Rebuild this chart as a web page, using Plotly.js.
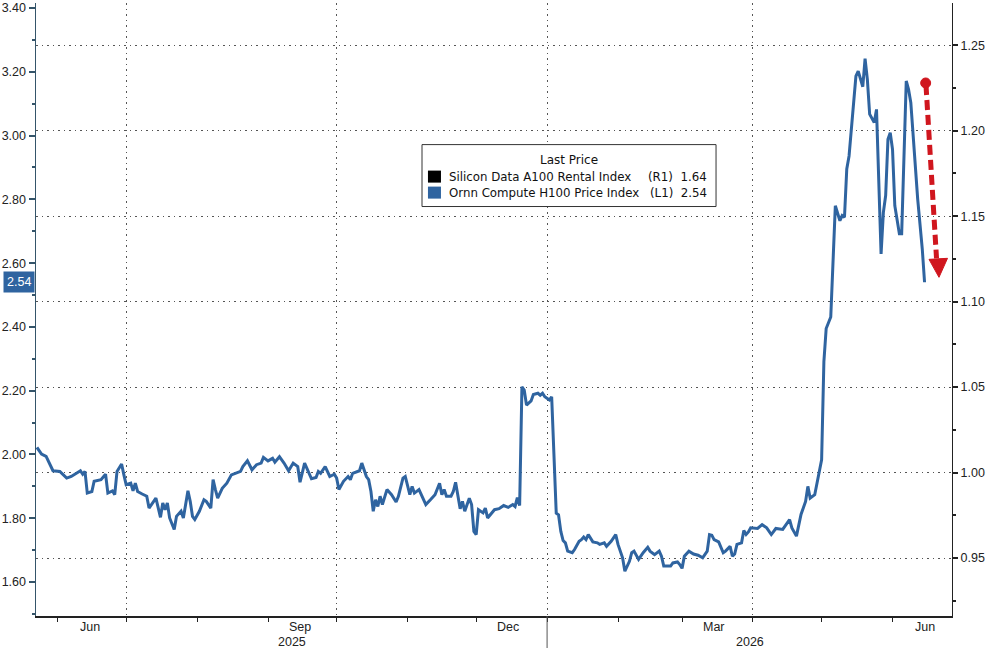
<!DOCTYPE html>
<html>
<head>
<meta charset="utf-8">
<script src="https://cdn.plot.ly/plotly-3.0.1.min.js"></script>
<style>html,body{margin:0;padding:0;background:#fff;}#chart{width:991px;height:648px;}</style>
</head>
<body>
<div id="chart"></div>
<script>
// Ornn Compute H100 Price Index (L1)
const h100Dates = [
"2025-05-23","2025-05-25","2025-05-27","2025-05-30","2025-06-02","2025-06-05","2025-06-07","2025-06-09","2025-06-11","2025-06-12",
"2025-06-13","2025-06-14","2025-06-16","2025-06-17","2025-06-20","2025-06-22","2025-06-23","2025-06-25","2025-06-26","2025-06-27",
"2025-06-29","2025-06-30","2025-07-01","2025-07-03","2025-07-04","2025-07-05","2025-07-06","2025-07-08","2025-07-10","2025-07-11",
"2025-07-13","2025-07-14","2025-07-16","2025-07-17","2025-07-18","2025-07-19","2025-07-20","2025-07-22","2025-07-23","2025-07-25",
"2025-07-26","2025-07-28","2025-07-29","2025-07-30","2025-07-31","2025-08-02","2025-08-04","2025-08-05","2025-08-07","2025-08-08",
"2025-08-09","2025-08-10","2025-08-12","2025-08-14","2025-08-16","2025-08-18","2025-08-20","2025-08-21","2025-08-23","2025-08-25",
"2025-08-27","2025-08-29","2025-08-30","2025-09-01","2025-09-03","2025-09-04","2025-09-06","2025-09-08","2025-09-10","2025-09-12",
"2025-09-14","2025-09-15","2025-09-17","2025-09-20","2025-09-22","2025-09-23","2025-09-24","2025-09-26","2025-09-28","2025-09-30",
"2025-10-01","2025-10-02","2025-10-04","2025-10-06","2025-10-07","2025-10-08","2025-10-11","2025-10-12","2025-10-14","2025-10-15",
"2025-10-16","2025-10-17","2025-10-18","2025-10-19","2025-10-20","2025-10-21","2025-10-23","2025-10-25","2025-10-27","2025-10-28",
"2025-10-30","2025-10-31","2025-11-02","2025-11-03","2025-11-04","2025-11-06","2025-11-09","2025-11-11","2025-11-13","2025-11-15",
"2025-11-16","2025-11-17","2025-11-18","2025-11-20","2025-11-21","2025-11-22","2025-11-24","2025-11-25","2025-11-26","2025-11-28",
"2025-11-29","2025-11-30","2025-12-01","2025-12-02","2025-12-04","2025-12-05","2025-12-06","2025-12-09","2025-12-11","2025-12-13",
"2025-12-15","2025-12-17","2025-12-18","2025-12-19","2025-12-20","2025-12-21","2025-12-22","2025-12-23","2025-12-25","2025-12-26",
"2025-12-28","2025-12-29","2025-12-30","2025-12-31","2026-01-02","2026-01-03","2026-01-05","2026-01-06","2026-01-07","2026-01-08",
"2026-01-09","2026-01-10","2026-01-12","2026-01-13","2026-01-15","2026-01-16","2026-01-17","2026-01-18","2026-01-19","2026-01-21",
"2026-01-23","2026-01-24","2026-01-26","2026-01-27","2026-01-29","2026-01-31","2026-02-01","2026-02-03","2026-02-04","2026-02-06",
"2026-02-07","2026-02-08","2026-02-10","2026-02-12","2026-02-14","2026-02-15","2026-02-17","2026-02-19","2026-02-20","2026-02-21",
"2026-02-23","2026-02-24","2026-02-25","2026-02-27","2026-02-28","2026-03-01","2026-03-02","2026-03-04","2026-03-06","2026-03-08",
"2026-03-10","2026-03-12","2026-03-13","2026-03-14","2026-03-15","2026-03-17","2026-03-19","2026-03-20","2026-03-22","2026-03-23",
"2026-03-24","2026-03-25","2026-03-27","2026-03-28","2026-03-29","2026-03-30","2026-03-31","2026-04-03","2026-04-05","2026-04-07",
"2026-04-09","2026-04-11","2026-04-14","2026-04-17","2026-04-18","2026-04-20","2026-04-22","2026-04-24","2026-04-25","2026-04-26",
"2026-04-28","2026-04-30","2026-05-01","2026-05-02","2026-05-03","2026-05-05","2026-05-06","2026-05-07","2026-05-09","2026-05-10",
"2026-05-11","2026-05-12","2026-05-13","2026-05-16","2026-05-17","2026-05-19","2026-05-20","2026-05-21","2026-05-22","2026-05-24",
"2026-05-25","2026-05-26","2026-05-27","2026-05-28","2026-05-29","2026-05-30","2026-05-31","2026-06-01","2026-06-02","2026-06-04",
"2026-06-05","2026-06-07","2026-06-08","2026-06-09","2026-06-10","2026-06-12","2026-06-14","2026-06-15"
];
const h100Values = [
2.022,2.001,1.994,1.949,1.947,1.926,1.931,1.941,1.949,1.938,
1.947,1.879,1.884,1.916,1.921,1.938,1.879,1.886,1.874,1.947,
1.970,1.936,1.905,1.910,1.886,1.910,1.884,1.876,1.869,1.832,
1.853,1.863,1.803,1.848,1.827,1.848,1.801,1.765,1.806,1.822,
1.801,1.886,1.853,1.806,1.796,1.822,1.858,1.853,1.832,1.921,
1.890,1.863,1.894,1.910,1.936,1.941,1.947,1.962,1.980,1.952,
1.968,1.973,1.991,1.980,1.988,1.976,1.993,1.973,1.949,1.973,
1.962,1.913,1.973,1.924,1.928,1.947,1.941,1.962,1.931,1.938,
1.926,1.890,1.916,1.931,1.921,1.941,1.949,1.973,1.931,1.921,
1.884,1.822,1.858,1.837,1.869,1.843,1.890,1.874,1.851,1.869,
1.926,1.931,1.874,1.900,1.879,1.890,1.843,1.858,1.874,1.910,
1.874,1.890,1.869,1.869,1.884,1.913,1.830,1.853,1.822,1.863,
1.843,1.759,1.749,1.827,1.817,1.832,1.801,1.827,1.830,1.840,
1.834,1.843,1.837,1.865,1.840,2.212,2.202,2.155,2.168,2.188,
2.192,2.186,2.192,2.181,2.171,2.181,1.816,1.811,1.759,1.730,
1.723,1.697,1.692,1.702,1.728,1.733,1.741,1.733,1.749,1.726,
1.723,1.718,1.723,1.712,1.728,1.749,1.718,1.676,1.634,1.665,
1.692,1.697,1.671,1.692,1.709,1.697,1.686,1.697,1.681,1.650,
1.650,1.650,1.660,1.663,1.655,1.643,1.681,1.697,1.688,1.684,
1.676,1.697,1.749,1.747,1.733,1.726,1.692,1.697,1.712,1.681,
1.688,1.718,1.723,1.762,1.749,1.757,1.770,1.768,1.780,1.770,
1.749,1.768,1.765,1.796,1.770,1.744,1.812,1.853,1.900,1.863,
1.874,1.947,1.983,2.291,2.395,2.431,2.634,2.780,2.733,2.749,
2.744,2.895,2.936,3.186,3.202,3.153,3.241,3.176,3.067,3.041,
3.082,2.853,2.629,2.759,2.812,2.988,3.009,2.957,2.780,2.692,
2.692,3.171,3.145,3.103,3.009,2.801,2.645,2.540
];
// Silicon Data A100 Rental Index (R1): last price only (outside the right-axis range)
const a100Last = 1.64;

// Axis / legend text
const seriesNames = ["Silicon Data A100 Rental Index", "Ornn Compute H100 Price Index"];
const seriesTags = ["(R1)", "(L1)"];
const seriesColors = ["#000000", "#2f64a0"];
const monthLabelDates = ["2025-06-15","2025-09-15","2025-12-15","2026-03-15","2026-06-15"];
const monthLabels = ["Jun","Sep","Dec","Mar","Jun"];
const quarterStarts = ["2025-07-01","2025-10-01","2026-01-01","2026-04-01"];
const yearLabels = ["2025","2026"];
const yearSplit = "2026-01-01";

const h100Last = h100Values[h100Values.length - 1];
const lastVals = [a100Last, h100Last];

const FONT = "Liberation Sans, Arial, sans-serif";
const LFONT = "DejaVu Sans, Verdana, sans-serif";
const AX = "#35556a";

const traces = [
  {x: h100Dates, y: h100Values, type: "scatter", mode: "lines", yaxis: "y",
   line: {color: seriesColors[1], width: 3}, showlegend: false, hoverinfo: "x+y"},
  {x: [h100Dates[h100Dates.length - 1]], y: [a100Last], type: "scatter", mode: "lines", yaxis: "y2",
   line: {color: seriesColors[0], width: 2}, showlegend: false, hoverinfo: "skip"}
];

// legend geometry (paper units)
const lg = {x0: 0.4214, x1: 0.7424, y0: 0.668, y1: 0.7690};
const rowsY = [0.7168, 0.6907];

const shapes = [
  {type: "line", xref: "x", yref: "paper", x0: yearSplit, x1: yearSplit, y0: 0, y1: -0.055,
   line: {color: "#555", width: 1}},
  {type: "rect", xref: "paper", yref: "paper", x0: lg.x0, x1: lg.x1, y0: lg.y0, y1: lg.y1,
   line: {color: "#333", width: 1}, fillcolor: "#ffffff", layer: "above"},
  // red dashed arrow
  {type: "line", xref: "paper", yref: "paper", x0: 0.9716, y0: 0.8662, x1: 0.9831, y1: 0.5835,
   line: {color: "#d0161e", width: 5, dash: "10px,5px"}},
  {type: "circle", xref: "paper", yref: "paper", x0: 0.9658, x1: 0.9767, y0: 0.8613, y1: 0.8777,
   line: {color: "#d0161e", width: 1}, fillcolor: "#d0161e"},
  {type: "path", xref: "paper", yref: "paper", path: "M 0.9749 0.5818 L 0.9951 0.5835 L 0.9858 0.5525 Z",
   line: {color: "#d0161e", width: 1}, fillcolor: "#d0161e"}
];
rowsY.forEach((ry, i) => {
  shapes.push({type: "rect", xref: "paper", yref: "paper", x0: 0.4279, x1: 0.4421, y0: ry - 0.0098, y1: ry + 0.0098,
    line: {color: seriesColors[i], width: 0}, fillcolor: seriesColors[i], layer: "above"});
});

const annotations = [];
monthLabelDates.forEach((d, i) => {
  annotations.push({x: d, y: 0, xref: "x", yref: "paper", xanchor: "center", yanchor: "top", yshift: -2, showarrow: false,
    text: monthLabels[i], font: {family: FONT, size: 12.5, color: "#222"}});
});
annotations.push({x: 0.279, y: 0, xref: "paper", yref: "paper", xanchor: "center", yanchor: "top", yshift: -17, showarrow: false,
  text: yearLabels[0], font: {family: FONT, size: 12.5, color: "#222"}});
annotations.push({x: 0.779, y: 0, xref: "paper", yref: "paper", xanchor: "center", yanchor: "top", yshift: -17, showarrow: false,
  text: yearLabels[1], font: {family: FONT, size: 12.5, color: "#222"}});
// legend texts
annotations.push({x: 0.5819, y: 0.7445, xref: "paper", yref: "paper", xanchor: "center", yanchor: "middle", showarrow: false,
  text: "Last Price", font: {family: LFONT, size: 12, color: "#111"}});
rowsY.forEach((ry, i) => {
  annotations.push({x: 0.4487, y: ry, xref: "paper", yref: "paper", xanchor: "left", yanchor: "middle", showarrow: false,
    text: seriesNames[i], font: {family: LFONT, size: 11.8, color: "#111"}});
  annotations.push({x: 0.7347, y: ry, xref: "paper", yref: "paper", xanchor: "right", yanchor: "middle", showarrow: false,
    text: seriesTags[i] + "\u00a0\u00a0" + lastVals[i].toFixed(2), font: {family: LFONT, size: 11.8, color: "#111"}});
});
// last price tag on left axis
annotations.push({x: 0, y: h100Last, xref: "paper", yref: "y", xanchor: "right", yanchor: "middle", xshift: -1, showarrow: false,
  text: h100Last.toFixed(2), bgcolor: seriesColors[1], borderpad: 3,
  font: {family: FONT, size: 12.5, color: "#ffffff"}});

const layout = {
  width: 991, height: 648,
  margin: {l: 36, r: 39, t: 3, b: 32},
  paper_bgcolor: "#ffffff", plot_bgcolor: "#ffffff",
  showlegend: false,
  font: {family: FONT, size: 12, color: "#222"},
  xaxis: {
    type: "date", range: ["2025-05-22 14:00", "2026-06-27"],
    tickmode: "array", tickvals: quarterStarts, ticktext: quarterStarts.map(() => ""),
    showgrid: true, gridcolor: "#555", griddash: "1.5px,4px", gridwidth: 1,
    ticks: "outside", ticklen: 4, tickcolor: "#222", tickwidth: 1,
    minor: {dtick: "M1", tick0: "2025-06-01", ticks: "outside", ticklen: 4, tickcolor: "#222", showgrid: false},
    showline: true, linecolor: "#222", linewidth: 1.5, zeroline: false, fixedrange: true
  },
  yaxis: {
    range: [1.4936, 3.4156], tick0: 1.6, dtick: 0.2, tickformat: ".2f", ticklabeloverflow: "allow",
    ticks: "outside", ticklen: 6, tickwidth: 2, tickcolor: AX,
    minor: {dtick: 0.1, tick0: 1.5, ticks: "outside", ticklen: 3, tickcolor: AX, showgrid: false},
    showline: true, linecolor: AX, linewidth: 1.5, showgrid: false, zeroline: false,
    tickfont: {family: FONT, size: 12.5, color: "#222"}
  },
  yaxis2: {
    overlaying: "y", side: "right", range: [0.9161, 1.2747], tick0: 0.95, dtick: 0.05, tickformat: ".2f",
    ticks: "outside", ticklen: 5, tickwidth: 2, tickcolor: "#222",
    minor: {dtick: 0.025, tick0: 0.925, ticks: "outside", ticklen: 3, tickcolor: "#222", showgrid: false},
    showline: true, linecolor: "#222", linewidth: 1,
    showgrid: true, gridcolor: "#555", griddash: "1.5px,4px", gridwidth: 1, zeroline: false,
    tickfont: {family: FONT, size: 12.5, color: "#222"}
  },
  shapes: shapes,
  annotations: annotations
};

Plotly.newPlot("chart", traces, layout, {displayModeBar: false, staticPlot: true});
</script>
</body>
</html>
